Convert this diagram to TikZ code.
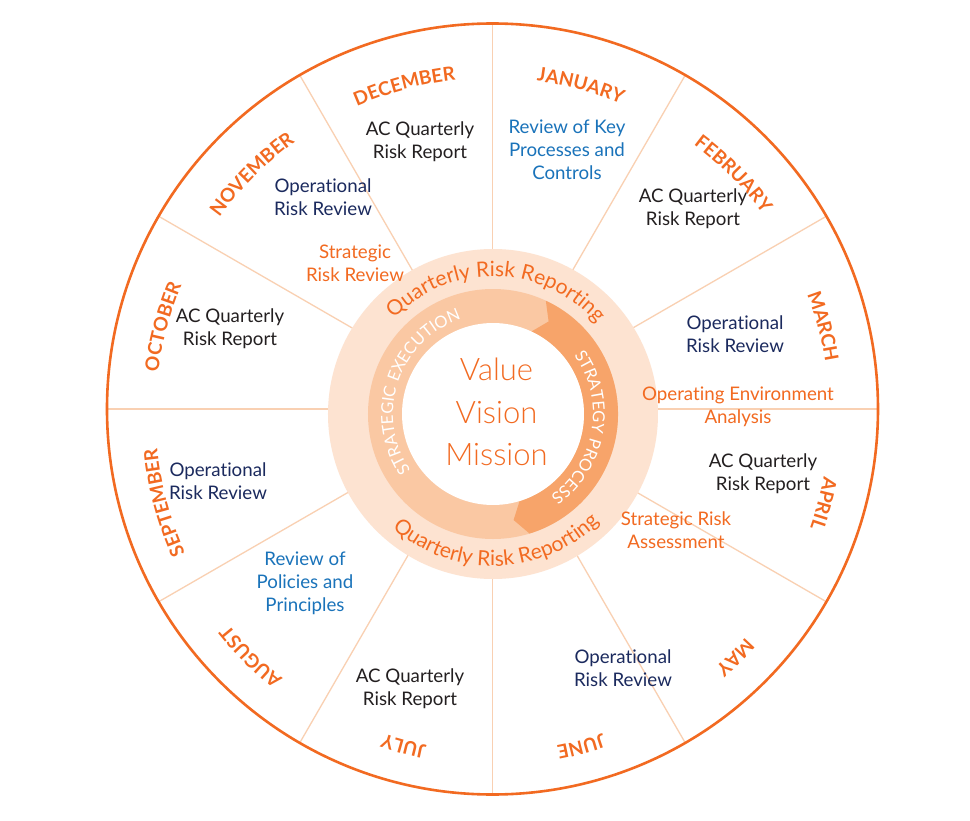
\documentclass[tikz,border=0pt]{standalone}
\usepackage{fontspec}
\setmainfont{Lato}[Ligatures={NoCommon}]
\newfontfamily\monthfont[LetterSpace=7]{Lato}
\newfontfamily\capsfont[LetterSpace=4]{Lato}
\newfontfamily\lightfont[Ligatures={NoCommon}]{Lato Light}
\usetikzlibrary{decorations.text}

\definecolor{ored}{HTML}{F26A21}
\definecolor{spokec}{HTML}{F9D0B2}
\definecolor{lightc}{HTML}{FDE3D1}
\definecolor{ringl}{HTML}{FAC8A3}
\definecolor{ringd}{HTML}{F7A46A}
\definecolor{navyc}{HTML}{1B2A5E}
\definecolor{bluec}{HTML}{1A73BA}
\definecolor{darkc}{HTML}{231F20}

\newcommand\monthstyle{\monthfont\bfseries\fontsize{19}{19}\selectfont\color{ored}}
\newcommand\qstyle{\fontsize{21}{21}\selectfont\color{ored}}
\newcommand\capsstyle{\capsfont\fontsize{16.5}{16.5}\selectfont\color{white}}
\newcommand\monthlabel[2]{%
  \path[decorate,decoration={text along path,text align=center,
    text={|\monthstyle|#2}}]
    ({#1+40}:337) arc[start angle=#1+40,end angle=#1-40,radius=337];}

\tikzset{
  item/.style={align=center,font=\fontsize{18.7}{22.8}\selectfont,inner sep=0pt},
  spoke/.style={draw=spokec,line width=1.3pt},
}

\begin{document}
\begin{tikzpicture}[x=1pt,y=1pt]
\useasboundingbox (-492.5,-411) rectangle (477.5,409);
\fill[white] (-492.5,-411) rectangle (477.5,409);

% spokes
\foreach \a in {0,30,...,330} \draw[spoke] (\a:150) -- (\a:385);

% outer circle
\draw[ored,line width=2.6pt] (0,0) circle[radius=385.5];

% inner discs
\begin{scope}[shift={(0.5,-5)}]
  \fill[lightc] (0,0) circle[radius=165];
  \fill[ringl] (0,0) circle[radius=125];
  \fill[ringd] (65:125) arc[start angle=65,end angle=-73,radius=125]
     -- (-79:108) -- (-73:91) arc[start angle=-73,end angle=65,radius=91]
     -- (59:108) -- cycle;
  \fill[white] (0,0) circle[radius=91];
  % ring texts
  \path[decorate,decoration={text along path,text align=center,
     text={|\qstyle|Quarterly Risk Reporting}}]
     (178.5:137.5) arc[start angle=178.5,end angle=-1.5,radius=137.5];
  \path[decorate,decoration={text along path,text align=center,
     text={|\qstyle|Quarterly Risk Reporting}}]
     (-178.5:152) arc[start angle=-178.5,end angle=1.5,radius=152];
  \path[decorate,decoration={text along path,text align=center,
     text={|\capsstyle|STRATEGIC EXECUTION}}]
     (251.5:100) arc[start angle=251.5,end angle=71.5,radius=100];
  \path[decorate,decoration={text along path,text align=center,
     text={|\capsstyle|STRATEGY PROCESS}}]
     (80.5:100) arc[start angle=80.5,end angle=-99.5,radius=100];
\end{scope}

% month labels
\begin{scope}[shift={(0,-6)}]
  \monthlabel{75}{JANUARY}
  \monthlabel{45}{FEBRUARY}
  \monthlabel{15}{MARCH}
  \monthlabel{-15}{APRIL}
  \monthlabel{-45}{MAY}
  \monthlabel{-75}{JUNE}
  \monthlabel{-105}{JULY}
  \monthlabel{-135}{AUGUST}
  \monthlabel{-165}{SEPTEMBER}
  \monthlabel{165}{OCTOBER}
  \monthlabel{135}{NOVEMBER}
  \monthlabel{105}{DECEMBER}
\end{scope}

% centre
\node[text=ored,align=center,font=\lightfont\fontsize{31}{42.5}\selectfont,inner sep=0pt] (vvm) at (4,-3) {Value\\Vision\\Mission};

% activities
\node[item,text=darkc] (dec) at (-72.5,267) {AC Quarterly\\Risk Report};
\node[item,text=navyc] (nov) at (-169.5,212) {Operational\\Risk Review};
\node[item,text=ored] (srr) at (-137.5,146) {Strategic\\Risk Review};
\node[item,text=bluec] (jan) at (74.5,259) {Review of Key\\Processes and\\Controls};
\node[item,text=darkc] (feb) at (200.5,200) {AC Quarterly\\Risk Report};
\node[item,text=navyc] (mar) at (242.5,75) {Operational\\Risk Review};
\node[item,text=ored] (oea) at (245.5,2) {Operating Environment\\Analysis};
\node[item,text=darkc] (apr) at (270.5,-65) {AC Quarterly\\Risk Report};
\node[item,text=ored] (sra) at (183.5,-121) {Strategic Risk\\Assessment};
\node[item,text=navyc] (jun) at (130.5,-259) {Operational\\Risk Review};
\node[item,text=darkc] (jul) at (-82.5,-280) {AC Quarterly\\Risk Report};
\node[item,text=bluec] (aug) at (-187.5,-174) {Review of\\Policies and\\Principles};
\node[item,text=navyc] (sep) at (-274.5,-72) {Operational\\Risk Review};
\node[item,text=darkc] (oct) at (-262.5,80) {AC Quarterly\\Risk Report};
\end{tikzpicture}
\end{document}
